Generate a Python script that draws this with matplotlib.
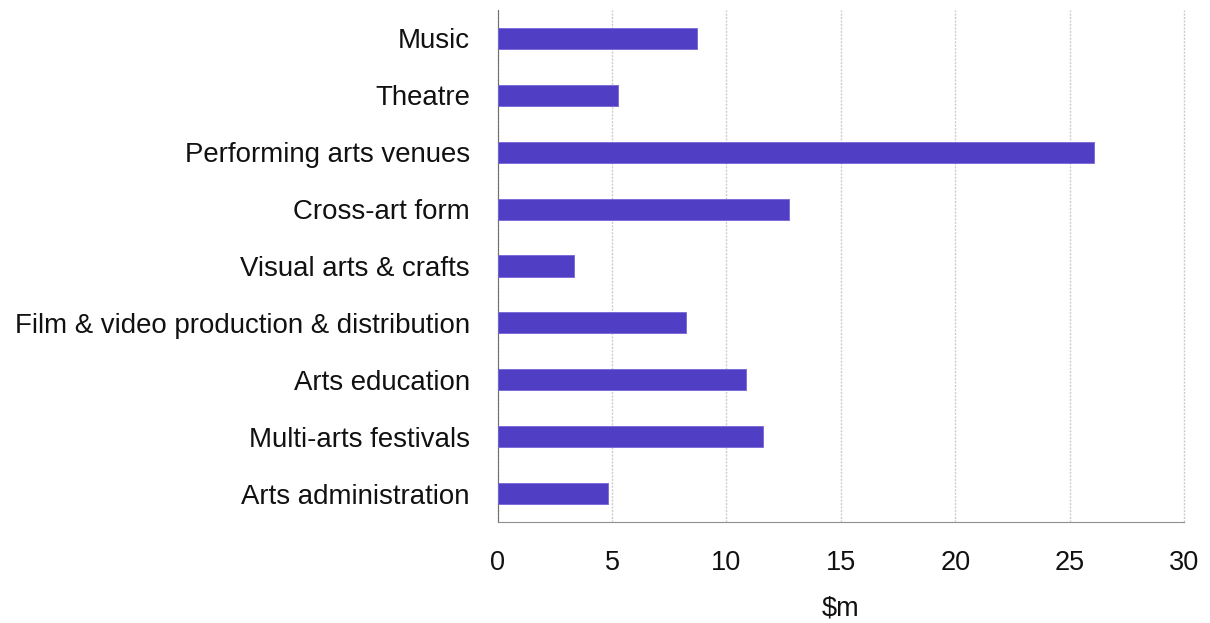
import matplotlib
matplotlib.use("Agg")
import matplotlib.pyplot as plt

categories = ["Music", "Theatre", "Performing arts venues", "Cross-art form",
              "Visual arts & crafts", "Film & video production & distribution",
              "Arts education", "Multi-arts festivals", "Arts administration"]
values = [8.7, 5.24, 26.07, 12.75, 3.32, 8.25, 10.87, 11.6, 4.8]
xticks = [0, 5, 10, 15, 20, 25, 30]

plt.rcParams['font.family'] = ['Liberation Sans', 'DejaVu Sans']

fig = plt.figure(figsize=(12.1, 6.23), dpi=100)
ax = fig.add_axes([497.7 / 1210, 1 - 522 / 623, (1184 - 497.7) / 1210, 512 / 623])

pos = list(range(len(categories)))[::-1]
ax.barh(pos, values, height=0.37, color="#503EC4", edgecolor="#7566D6", linewidth=0.6, zorder=3)

ax.set_xlim(0, 30)
ax.set_ylim(-0.5, len(categories) - 0.5)
ax.set_xticks(xticks)
ax.set_xticklabels([str(t) for t in xticks], fontsize=19.5)
ax.set_yticks(pos)
ax.set_yticklabels(categories, fontsize=19.9)
ax.tick_params(axis="both", length=0, colors="#111111")
ax.tick_params(axis="x", pad=20)
ax.tick_params(axis="y", pad=20)

ax.grid(axis="x", color="#cccccc", linestyle=(0, (1.5, 1)), linewidth=1, zorder=0)
for gl in ax.get_xgridlines():
    gl.set_clip_on(False)
for s in ["top", "right"]:
    ax.spines[s].set_visible(False)
ax.spines["left"].set_color("#707070")
ax.spines["bottom"].set_color("#909090")

ax.set_xlabel("\\$m", fontsize=19.5, labelpad=14, color="#111111")

plt.savefig("out.png")
